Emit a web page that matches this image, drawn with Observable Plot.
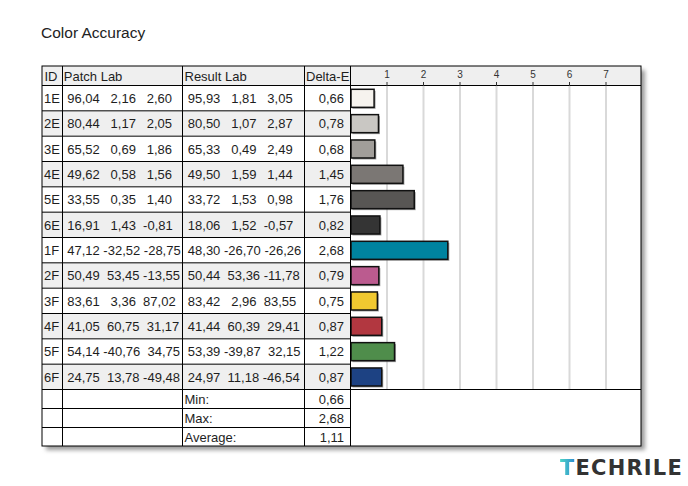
<!DOCTYPE html>
<html>
<head>
<meta charset="utf-8">
<script src="https://cdn.jsdelivr.net/npm/d3@7"></script>
<script src="https://cdn.jsdelivr.net/npm/@observablehq/plot@0.6"></script>
<style>
  body { margin: 0; background: #fff; }
  #wrap { position: relative; width: 688px; height: 486px; overflow: hidden; font-family: "Liberation Sans", Arial, sans-serif; }
  #title { position: absolute; left: 41px; top: 24.5px; font-size: 15.5px; line-height: 15.5px; letter-spacing: 0px; color: #222; white-space: nowrap; }
  #logo { position: absolute; left: 560px; top: 458px; font-family: "DejaVu Sans", sans-serif; font-weight: bold; font-size: 21px; line-height: 21px; letter-spacing: 1.2px; color: #333; white-space: nowrap; }
  #logo .t { background: linear-gradient(90deg, #4fd6c4, #2a86d2); -webkit-background-clip: text; background-clip: text; color: transparent; }
  #chart { position: absolute; left: 0; top: 0; }
</style>
</head>
<body>
<div id="wrap">
  <div id="chart"></div>
  <div id="title">Color Accuracy</div>
  <div id="logo"><span class="t">T</span>ECHRILE</div>
</div>
<script>
// ---- data ----
const ids = ["1E","2E","3E","4E","5E","6E","1F","2F","3F","4F","5F","6F"];
const patchL = [96.04, 80.44, 65.52, 49.62, 33.55, 16.91, 47.12, 50.49, 83.61, 41.05, 54.14, 24.75];
const patchA = [2.16, 1.17, 0.69, 0.58, 0.35, 1.43, -32.52, 53.45, 3.36, 60.75, -40.76, 13.78];
const patchB = [2.60, 2.05, 1.86, 1.56, 1.40, -0.81, -28.75, -13.55, 87.02, 31.17, 34.75, -49.48];
const resultL = [95.93, 80.50, 65.33, 49.50, 33.72, 18.06, 48.30, 50.44, 83.42, 41.44, 53.39, 24.97];
const resultA = [1.81, 1.07, 0.49, 1.59, 1.53, 1.52, -26.70, 53.36, 2.96, 60.39, -39.87, 11.18];
const resultB = [3.05, 2.87, 2.49, 1.44, 0.98, -0.57, -26.26, -11.78, 83.55, 29.41, 32.15, -46.54];
const deltaE = [0.66, 0.78, 0.68, 1.45, 1.76, 0.82, 2.68, 0.79, 0.75, 0.87, 1.22, 0.87];
const patchColors = ["#f6f3ee","#c9c7c3","#a19e9a","#7b7774","#585654","#343434","#00839f","#bb5b8f","#f1c930","#b23740","#4f8d4b","#1d4283"];
const headers = ["ID", "Patch Lab", "Result Lab", "Delta-E"];
const summaryLabels = ["Min:", "Max:", "Average:"];
const summaryValues = [0.66, 2.68, 1.11];
const xTicks = [1, 2, 3, 4, 5, 6, 7];
const xDomain = [0, 8];

// ---- layout (pixels) ----
const W = 688, H = 486;
const colL = 42, col1 = 62, col2 = 182, col3 = 304, col4 = 350, colR = 641;
const top0 = 66, headBottom = 85, dataBottom = 389, bottom0 = 446;
const n = ids.length;
const rowH = (dataBottom - headBottom) / n;

const xs = Plot.scale({x: {domain: xDomain, range: [col4, 642]}});
const ys = Plot.scale({y: {domain: [0, n], range: [headBottom, dataBottom]}});
const px = p => xs.invert(p);
const py = p => ys.invert(p);

const NB = "\u00A0";
const fmt = v => v.toFixed(2).replace(".", ",");
const pad = v => fmt(v).padStart(6, NB);
const labStr = (a, b, c) => [a, b, c].map(pad).join(NB);

const idx = d3.range(n);
const patchStr = idx.map(i => labStr(patchL[i], patchA[i], patchB[i]));
const resultStr = idx.map(i => labStr(resultL[i], resultA[i], resultB[i]));

const sumRowH = (bottom0 - dataBottom) / summaryLabels.length / rowH; // in row units
const headTop = py(top0);
const sumRows = summaryLabels.map((s, k) => ({label: s, value: summaryValues[k], y1: n + k * sumRowH, y2: n + (k + 1) * sumRowH}));

const textColor = "#1e1e1e";
const headerX = [44, 63.3, 184, 305.5];

const plot = Plot.plot({
  width: W,
  height: H,
  marginTop: headBottom,
  marginBottom: H - dataBottom,
  marginLeft: col4,
  marginRight: W - 642,
  x: {domain: xDomain, range: [col4, 642]},
  y: {domain: [0, n], range: [headBottom, dataBottom], axis: null},
  color: {type: "identity"},
  style: {fontFamily: "'Liberation Sans', Arial, sans-serif", background: "transparent", overflow: "visible"},
  marks: [
    // drop shadow of the table
    Plot.rect([0], {x1: px(colL + 4), x2: px(colR + 4), y1: py(top0 + 4), y2: py(bottom0 + 4), fill: "#9a9a9a", imageFilter: "blur(2px)"}),
    // table background
    Plot.rect([0], {x1: px(colL), x2: px(colR), y1: headTop, y2: n + 3 * sumRowH, fill: "white"}),
    // header background
    Plot.rect([0], {x1: px(colL), x2: px(colR), y1: headTop, y2: 0, fill: "#efefef"}),
    // alternating row shading
    Plot.rect(idx.filter(i => i % 2 === 1), {x1: px(colL), x2: px(col4), y1: i => i, y2: i => i + 1, fill: "#efefef"}),
    // grid
    Plot.ruleX(xTicks, {y1: 0, y2: n, stroke: "#d9d9d9", strokeWidth: 2}),
    // bar shadows
    Plot.rect(deltaE, {x1: 0, x2: d => d, y1: (d, i) => i, y2: (d, i) => i + 1, insetTop: 4.3, insetBottom: 3, insetLeft: 1, dx: 1.5, dy: 1.5, fill: "#555", fillOpacity: 0.55}),
    // bars
    Plot.rect(deltaE, {x1: 0, x2: d => d, y1: (d, i) => i, y2: (d, i) => i + 1, insetTop: 4.3, insetBottom: 3, insetLeft: 1, fill: (d, i) => patchColors[i], stroke: "#111", strokeWidth: 1.5}),
    // row separators (table part)
    Plot.ruleY(d3.range(1, n), {x1: px(colL), x2: px(col4), stroke: "#000", strokeWidth: 1}),
    Plot.ruleY(sumRows.slice(1).map(d => d.y1), {x1: px(colL), x2: px(col4), stroke: "#000", strokeWidth: 1}),
    // full-width lines
    Plot.ruleY([0, n], {x1: px(colL), x2: px(colR), stroke: "#000", strokeWidth: 1}),
    // column separators
    Plot.ruleX([col1, col2, col3, col4].map(px), {y1: headTop, y2: n + 3 * sumRowH, stroke: "#000", strokeWidth: 1}),
    // outer frame
    Plot.rect([0], {x1: px(colL), x2: px(colR), y1: headTop, y2: n + 3 * sumRowH, fill: "none", stroke: "#000", strokeWidth: 1}),
    // axis
    Plot.axisX({anchor: "top", ticks: xTicks, tickSize: 4, tickPadding: 4, fontSize: 10, label: null, tickFormat: d => String(d), color: "#333"}),
    // header texts
    Plot.text(headers, {x: (d, i) => px(headerX[i]), y: py((top0 + headBottom) / 2 + 0.5), text: d => d, textAnchor: "start", fontSize: 13, fill: textColor}),
    // ID column
    Plot.text(ids, {x: px(43.5), y: (d, i) => i + 0.5, text: d => d, textAnchor: "start", fontSize: 13, fill: textColor, dy: 0.5}),
    // Patch Lab
    Plot.text(patchStr, {x: px(63.1), y: (d, i) => i + 0.5, text: d => d, textAnchor: "start", fontSize: 13, fill: textColor, dy: 0.5}),
    // Result Lab
    Plot.text(resultStr, {x: px(183.7), y: (d, i) => i + 0.5, text: d => d, textAnchor: "start", fontSize: 13, fill: textColor, dy: 0.5}),
    // Delta-E
    Plot.text(deltaE, {x: px(343.5), y: (d, i) => i + 0.5, text: d => fmt(d), textAnchor: "end", fontSize: 13, fill: textColor, dy: 0.5}),
    // summary rows
    Plot.text(sumRows, {x: px(184), y: d => (d.y1 + d.y2) / 2, text: d => d.label, textAnchor: "start", fontSize: 13, fill: textColor, dy: 0.5}),
    Plot.text(sumRows, {x: px(343.5), y: d => (d.y1 + d.y2) / 2, text: d => fmt(d.value), textAnchor: "end", fontSize: 13, fill: textColor, dy: 0.5})
  ]
});
document.getElementById("chart").appendChild(plot);
</script>
</body>
</html>
